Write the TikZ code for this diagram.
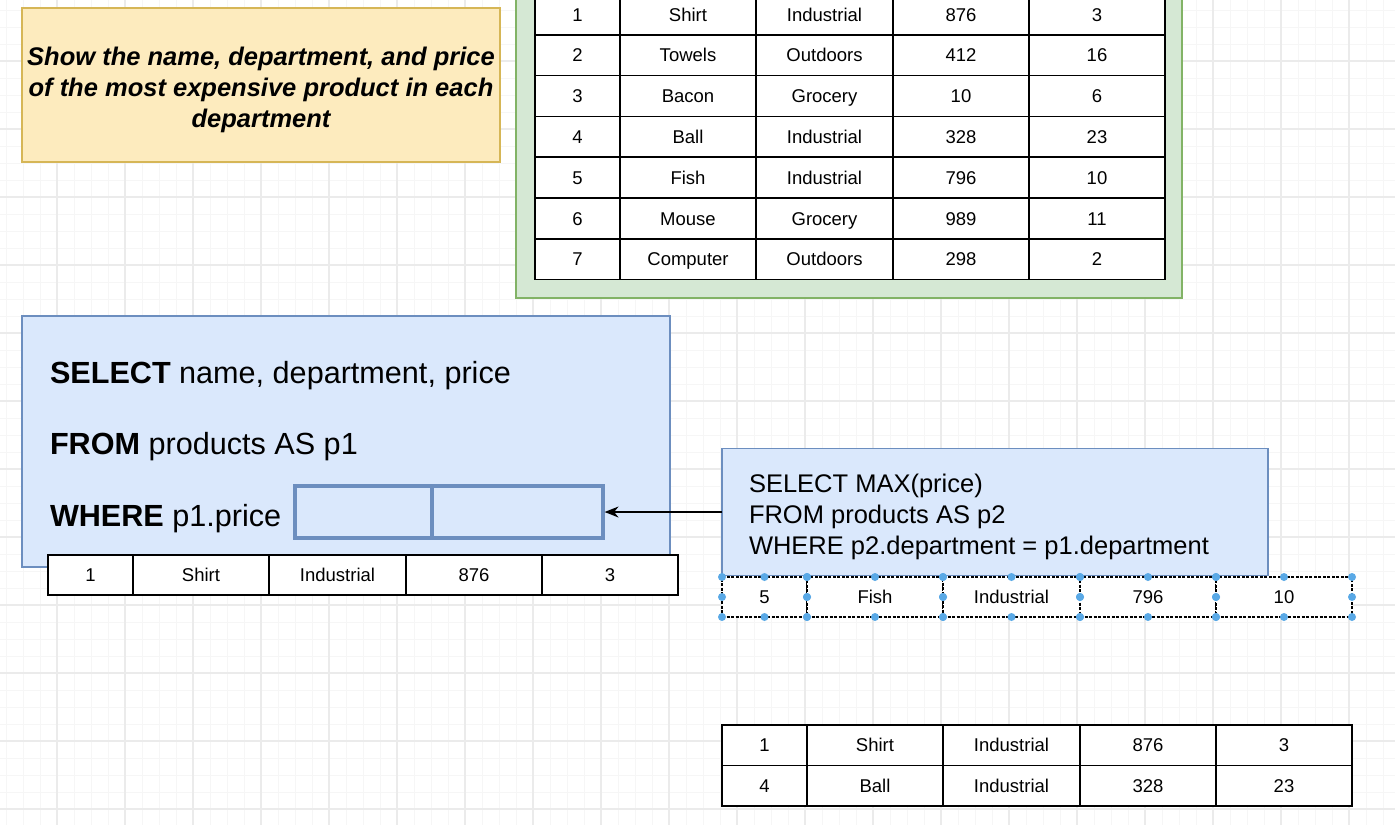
\documentclass[tikz,border=0pt]{standalone}
\usepackage{fontspec}
\setmainfont{Liberation Sans}
\usetikzlibrary{arrows.meta}

\definecolor{notefill}{HTML}{FDEBBE}
\definecolor{noteline}{HTML}{D6B656}
\definecolor{framefill}{HTML}{D5E8D4}
\definecolor{frameline}{HTML}{82B366}
\definecolor{queryfill}{HTML}{DAE8FC}
\definecolor{queryline}{HTML}{6C8EBF}
\definecolor{handleblue}{HTML}{5AA9E6}
\definecolor{gridlight}{HTML}{F6F6F6}
\definecolor{griddark}{HTML}{EBEBEB}

\tikzset{
  every node/.append style={outer sep=0pt},
  cell/.style={draw, line width=1.6pt, fill=white, inner sep=0pt,
    text height=13.3pt, text depth=0pt, font=\fontsize{18.5}{22}\selectfont},
  pickedcell/.style={cell, line width=1.2pt, dash pattern=on 3pt off 1.5pt},
  handle/.style={fill=handleblue},
  querybox/.style={draw=queryline, line width=1.2pt, fill=queryfill, inner sep=0pt},
  slot/.style={draw=queryline, line width=3.2pt, inner sep=0pt},
  sqlbig/.style={inner sep=0pt, font=\fontsize{30.6}{36}\selectfont},
  sqlsmall/.style={inner sep=0pt, font=\fontsize{25.5}{31}\selectfont},
  flowarrow/.style={line width=1.4pt, shorten >=1.6pt, -{Stealth[length=14pt, width=11pt]}}
}

% one or more table rows: prefix, x, y, row height, style, rows
\newcommand{\drawrows}[6]{%
  \foreach \ca/\cb/\cc/\cd/\ce [count=\r] in {#6} {
    \foreach \txt/\dx/\w [count=\c] in {\ca/0/85, \cb/85/136, \cc/221/137, \cd/358/136, \ce/494/136} {
      \node[#5, minimum width=\w, minimum height=#4, anchor=north west]
        (#1-\r-\c) at ({#2+\dx}, {#3+(\r-1)*#4}) {\txt};
    }
  }
}

\begin{document}
\begin{tikzpicture}[x=1pt, y=-1pt]
  % Canvas
  \useasboundingbox (0,0) rectangle (1395,825);
  \clip (0,0) rectangle (1395,825);
  \fill[white] (0,0) rectangle (1395,825);

  % Background grid
  \foreach \k in {0,...,82} {
      \draw[gridlight, line width=0.8pt] ({6+17*\k},0) -- ++(0,825);
    }
  \foreach \k in {0,...,48} {
      \draw[gridlight, line width=0.8pt] (0,{10+17*\k}) -- ++(1395,0);
    }
  \foreach \k in {-1,...,20} {
      \draw[griddark, line width=1.2pt] ({57+68*\k},0) -- ++(0,825);
    }
  \foreach \k in {-1,...,12} {
      \draw[griddark, line width=1.2pt] (0,{61+68*\k}) -- ++(1395,0);
    }

  % Task note
  \node[draw=noteline, line width=1.2pt, fill=notefill, minimum width=478, minimum height=154,
    anchor=north west, inner sep=0pt] (task) at (22,8) {};
  \node[align=center, inner sep=0pt, font=\fontsize{25.5}{31}\selectfont\bfseries\itshape]
    (tasktext) at (261,90)
    {Show the name, department, and price\\of the most expensive product in each\\department};

  % Products table
  \node[draw=frameline, line width=2.4pt, fill=framefill, minimum width=666, minimum height=340,
    anchor=south west, inner sep=0pt] (frame) at (516,298) {};
  \drawrows{prod}{535}{-6}{40.8}{cell}{1/Shirt/Industrial/876/3, 2/Towels/Outdoors/412/16,
    3/Bacon/Grocery/10/6, 4/Ball/Industrial/328/23, 5/Fish/Industrial/796/10,
    6/Mouse/Grocery/989/11, 7/Computer/Outdoors/298/2}

  % Outer query
  \node[querybox, minimum width=648, minimum height=251, anchor=north west] (outer) at (22,316) {};
  \node[sqlbig, anchor=base west] (selline) at (50,383) {\textbf{SELECT} name, department, price};
  \node[sqlbig, anchor=base west] (fromline) at (50,454) {\textbf{FROM} products AS p1};
  \node[sqlbig, anchor=base west] (whereline) at (50,526) {\textbf{WHERE} p1.price};
  \node[slot, minimum width=137, minimum height=52, anchor=north west] (slotA) at (295,486) {};
  \node[slot, minimum width=171, minimum height=52, anchor=north west] (slotB) at (432,486) {};

  % Current outer row
  \drawrows{outrow}{48}{555}{40}{cell}{1/Shirt/Industrial/876/3}

  % Inner query
  \node[querybox, minimum width=546, minimum height=127] (inner) at (995,512) {};
  \node[sqlsmall, anchor=base west] (maxline) at (749,492) {SELECT MAX(price)};
  \node[sqlsmall, anchor=base west] (p2line) at (749,523) {FROM products AS p2};
  \node[sqlsmall, anchor=base west] (deptline) at (749,554) {WHERE p2.department = p1.department};
  \draw[flowarrow] (inner.west) -- (slotB.east);

  % Selected row with handles
  \drawrows{fish}{722}{577}{40}{pickedcell}{5/Fish/Industrial/796/10}
  \foreach \c in {1,...,5} {
      \foreach \an in {north west, north, north east, west, east, south west, south, south east} {
          \fill[handle] (fish-1-\c.\an) circle (4);
        }
    }

  % Result
  \drawrows{result}{722}{725}{40.5}{cell}{1/Shirt/Industrial/876/3, 4/Ball/Industrial/328/23}
\end{tikzpicture}
\end{document}
